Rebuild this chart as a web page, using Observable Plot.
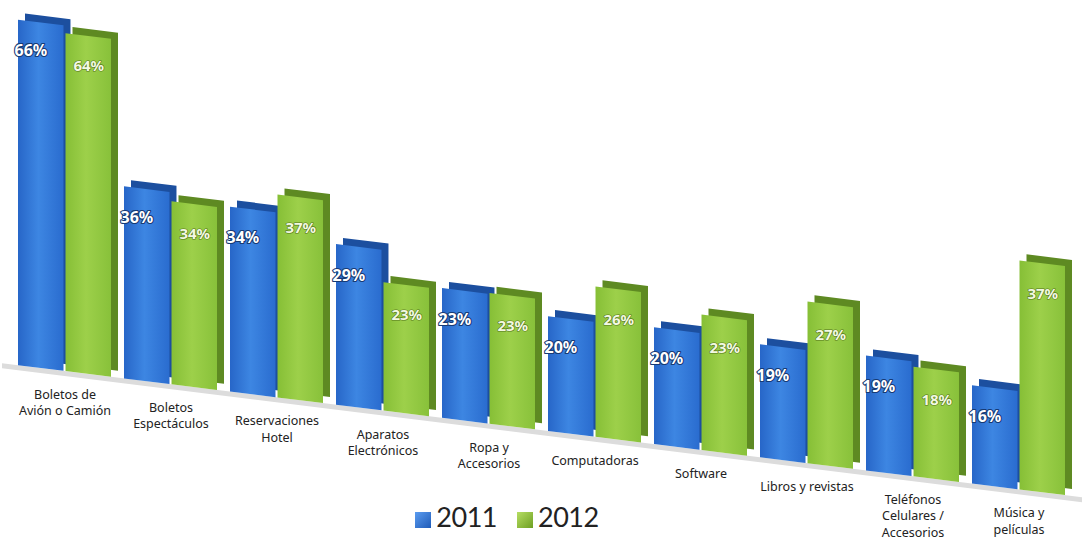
<!DOCTYPE html>
<html><head><meta charset="utf-8">
<script src="https://cdn.jsdelivr.net/npm/d3@7"></script>
<script src="https://cdn.jsdelivr.net/npm/@observablehq/plot@0.6"></script>
<style>
body{margin:0;background:#fff;font-family:Lato,"Open Sans",sans-serif;}
#chart svg{overflow:visible;display:block}
#legend{height:52px;display:flex;justify-content:center;align-items:center;gap:20px;font-size:27px;color:#222;position:relative;left:-36px;letter-spacing:-0.5px}
.sw{display:inline-block;width:16px;height:16px;margin-right:5px;vertical-align:-1px}
</style></head><body>
<svg width="0" height="0" style="position:absolute"><defs>
<linearGradient id="gBlue" x1="0" x2="1" y1="0" y2="0"><stop offset="0" stop-color="#2766c8"/><stop offset="0.45" stop-color="#3d86e2"/><stop offset="1" stop-color="#2a6ccf"/></linearGradient>
<linearGradient id="gGreen" x1="0" x2="1" y1="0" y2="0"><stop offset="0" stop-color="#86bf36"/><stop offset="0.45" stop-color="#9dd04a"/><stop offset="1" stop-color="#88c13a"/></linearGradient>
</defs></svg>
<div id="chart"></div>
<div id="legend"></div>
<script>
const categories = ["Boletos de Avión o Camión","Boletos Espectáculos","Reservaciones Hotel","Aparatos Electrónicos","Ropa y Accesorios","Computadoras","Software","Libros y revistas","Teléfonos Celulares / Accesorios","Música y películas"];
const categoryLabels = ["Boletos de\nAvión o Camión","Boletos\nEspectáculos","Reservaciones\nHotel","Aparatos\nElectrónicos","Ropa y\nAccesorios","Computadoras","Software","Libros y revistas","Teléfonos\nCelulares /\nAccesorios","Música y\npelículas"];
const years = ["2011","2012"];
const values2011 = [66,36,34,29,23,20,20,19,19,16];
const values2012 = [64,34,37,23,23,26,23,27,18,37];

const data2011 = categories.map((c,i)=>({cat:c, year:years[0], value:values2011[i]}));
const data2012 = categories.map((c,i)=>({cat:c, year:years[1], value:values2012[i]}));

const W = 1086, H = 490, mL = 2, mR = 4, mT = 20, mB = 127, pad = 0.12;
const base = H - mB;            // baseline (before tilt)
const bw = (W - mL - mR) / categories.length * (1 - pad);
const half = bw / 2;
const slope = 0.124;            // floor tilt
const persp = 0.000183;         // height growth toward the viewer (right side)
const grow = x => 1 + persp * x;

const plot = Plot.plot({
  width: W, height: H,
  marginLeft: mL, marginRight: mR, marginTop: mT, marginBottom: mB,
  x: {domain: categories, padding: pad, axis: null},
  y: {domain: [0, 66], axis: null},
  marks: [
    Plot.ruleY([0], {stroke: "#dcdcdc", strokeWidth: 5, dy: 2}),
    Plot.barY(data2011, {x: "cat", y: "value", fill: "#1c4f9f", insetRight: half, dx: 7, dy: -7}),
    Plot.barY(data2011, {x: "cat", y: "value", fill: "url(#gBlue)", insetRight: half}),
    Plot.barY(data2012, {x: "cat", y: "value", fill: "#5e8a22", insetLeft: half, dx: 7, dy: -7}),
    Plot.barY(data2012, {x: "cat", y: "value", fill: "url(#gGreen)", insetLeft: half}),
    Plot.text(data2011, {x: "cat", y: "value", text: d => d.value + "%", dx: -half - 3, dy: 28, textAnchor: "start",
      fill: "white", stroke: "#163a74", strokeWidth: 2.2, paintOrder: "stroke", fontWeight: "bold", fontSize: 16}),
    Plot.text(data2012, {x: "cat", y: "value", text: d => d.value + "%", dx: half / 2, dy: 30,
      fill: "#f3f9e2", stroke: "#54761a", strokeWidth: 1.2, paintOrder: "stroke", fontWeight: "bold", fontSize: 15}),
    Plot.text(categories, {x: d => d, y: () => 0, text: (d, i) => categoryLabels[i], dy: 16, lineAnchor: "top",
      fontSize: 12.5, fill: "#222", lineHeight: 1.3})
  ]
});
document.getElementById("chart").appendChild(plot);

const ns = "http://www.w3.org/2000/svg";
const yScale = plot.scale("y");
const xScale = plot.scale("x");

// perspective: bars grow in height toward the right
plot.querySelectorAll('g[aria-label="bar"] rect').forEach(r => {
  const cx = +r.getAttribute("x") + +r.getAttribute("width") / 2;
  const f = grow(cx);
  r.setAttribute("transform", `translate(0,${base}) scale(1,${f}) translate(0,${-base})`);
});

// floor tilt
const angle = Math.atan(slope) * 180 / Math.PI;
plot.querySelectorAll('g[aria-label="bar"], g[aria-label="rule"]').forEach(g => {
  const w = document.createElementNS(ns, "g");
  w.setAttribute("transform", `skewY(${angle})`);
  g.parentNode.insertBefore(w, g);
  w.appendChild(g);
});

// move the texts with the floor (and the value labels with the bar tops)
const sr = plot.getBoundingClientRect();
const textGroups = plot.querySelectorAll('g[aria-label="text"]');
const valueSets = [values2011, values2012];
textGroups.forEach((g, gi) => {
  g.querySelectorAll("text").forEach((t, i) => {
    const r = t.getBoundingClientRect();
    const cx = r.x + r.width / 2 - sr.x;
    let shift = cx * slope;
    if (gi < 2) {
      const bx = xScale.apply(categories[i]) + xScale.bandwidth / 2 + (gi === 0 ? -half / 2 : half / 2);
      const yv = yScale.apply(valueSets[gi][i]);
      shift = bx * slope - (base - yv) * (grow(bx) - 1);
    }
    const ex = t.getAttribute("transform") || "";
    t.setAttribute("transform", `translate(0,${shift}) ${ex}`);
  });
});

// legend
const legend = document.getElementById("legend");
const swatch = {"2011": "linear-gradient(135deg,#5b9cf0,#1f5bb8)", "2012": "linear-gradient(135deg,#b6de63,#6e9f22)"};
years.forEach(y => {
  const s = document.createElement("span");
  s.innerHTML = `<span class="sw" style="background:${swatch[y]}"></span>${y}`;
  legend.appendChild(s);
});
</script>
</body></html>
